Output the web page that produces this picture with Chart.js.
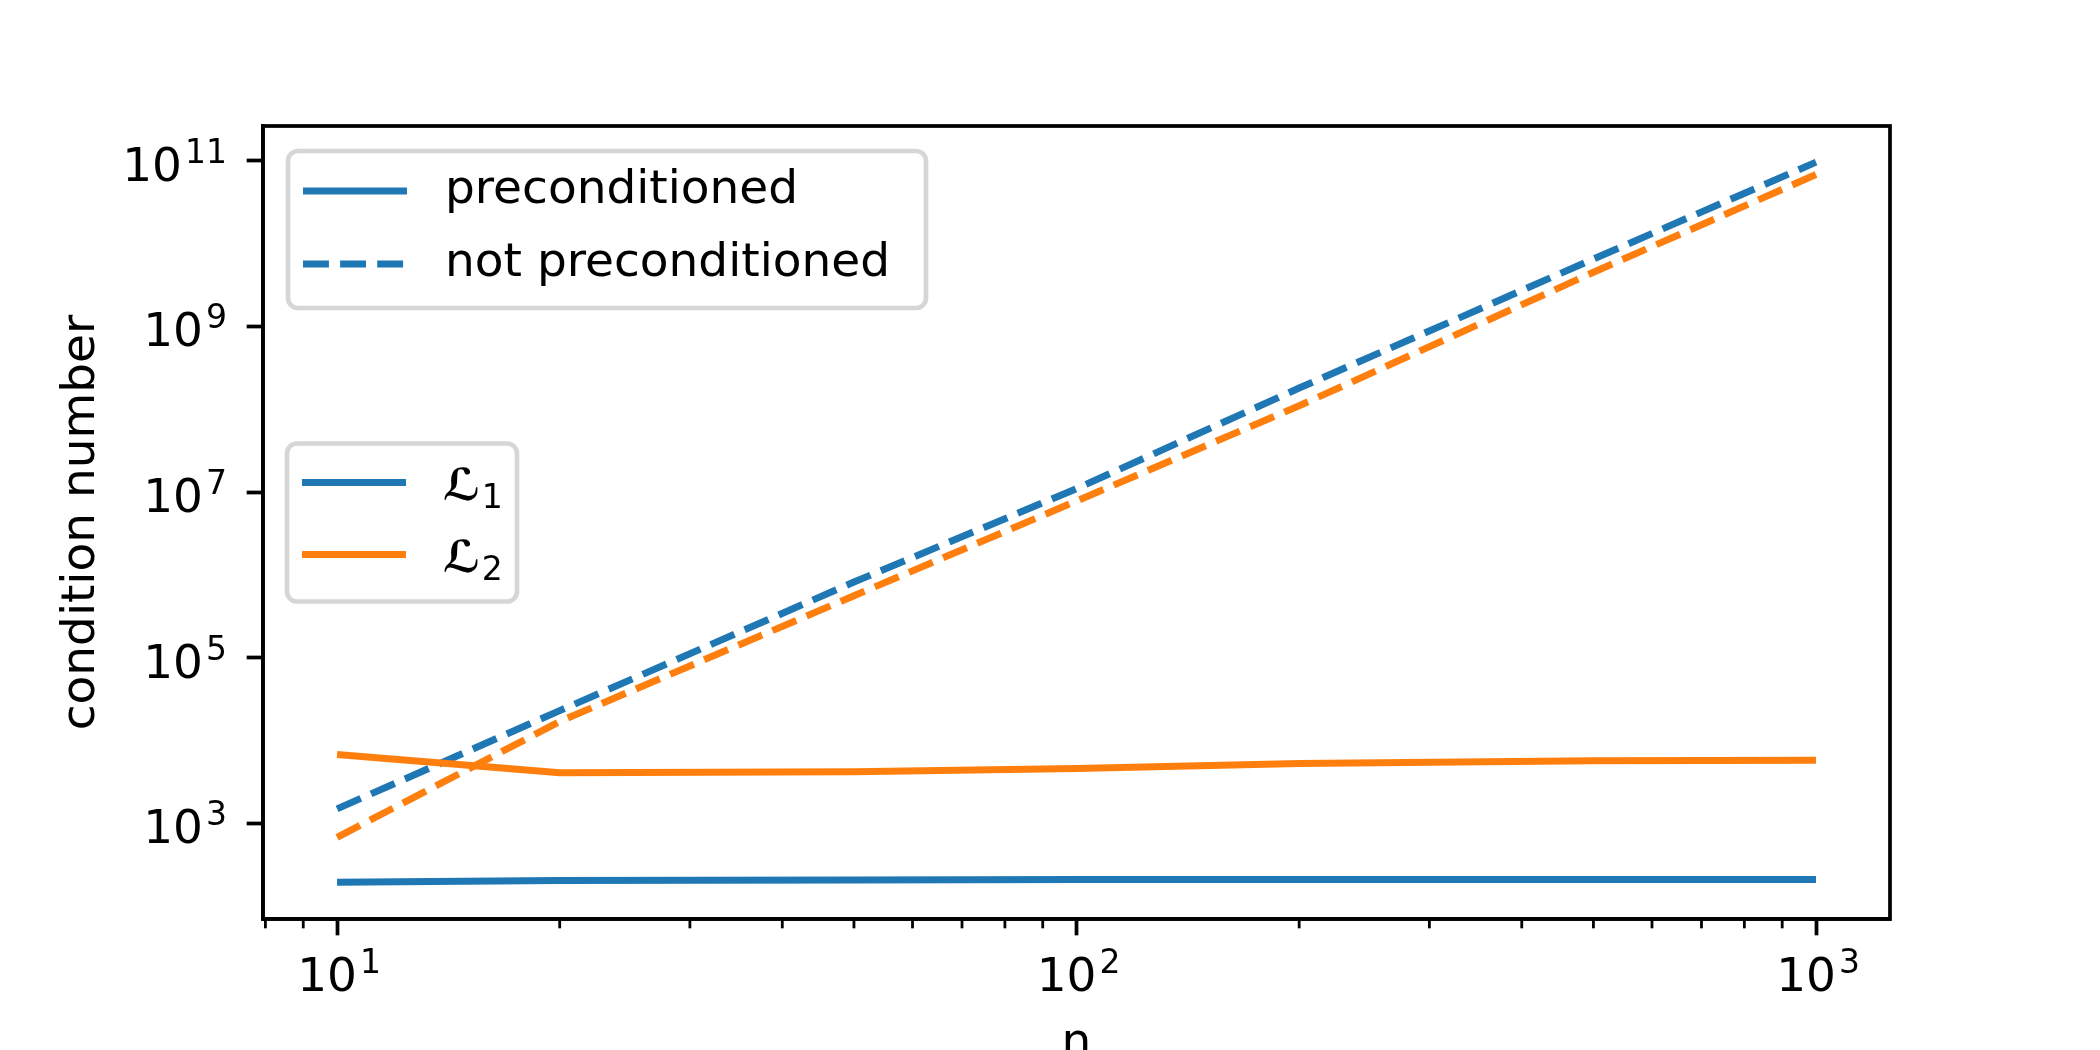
<!DOCTYPE html>
<html>
<head>
<meta charset="utf-8">
<script src="https://cdn.jsdelivr.net/npm/chart.js@4.4.1/dist/chart.umd.min.js"></script>
<style>
  html, body { margin: 0; padding: 0; background: #fff; }
  #wrap { width: 2100px; height: 1050px; position: relative; }
</style>
</head>
<body>
<div id="wrap"><canvas id="myChart"></canvas></div>
<script>
// problem sizes and condition numbers
const nValues = [10, 20, 50, 100, 200, 500, 1000];
const l1Pre = [195, 205, 208, 210, 210, 210, 210];
const l2Pre = [6800, 4100, 4200, 4600, 5300, 5700, 5800];
const l1NotPre = [1.5e3, 2.3e4, 8.2e5, 1.1e7, 1.8e8, 6.5e9, 9.6e10];
const l2NotPre = [6.8e2, 1.7e4, 5.6e5, 7.8e6, 1.1e8, 4.5e9, 6.8e10];

// axes
const X_MIN = 7.94, X_MAX = 1259;
const Y_MIN = 70.3, Y_MAX = 2.62e11;
const xTicks = [10, 100, 1000];
const xTickExp = ['1', '2', '3'];
const xMinorTicks = [8, 9, 20, 30, 40, 50, 60, 70, 80, 90, 200, 300, 400, 500, 600, 700, 800, 900];
const yTicks = [1e3, 1e5, 1e7, 1e9, 1e11];
const yTickExp = ['3', '5', '7', '9', '11'];

const K = 336 / 72; // px per point
const FAMILY = '"DejaVu Sans", sans-serif';
const FS = 47;
const BLUE = '#1f77b4';
const ORANGE = '#ff7f0e';
const DASH = [3.7 * 1.5 * K, 1.6 * 1.5 * K];

function pts(ys) {
  return nValues.map((n, i) => ({ x: n, y: ys[i] }));
}

// "10" with a raised exponent, like matplotlib's mathtext labels
function drawPow(ctx, exp, x, baseline, align) {
  ctx.font = FS + 'px ' + FAMILY;
  const wb = ctx.measureText('10').width;
  ctx.font = Math.round(FS * 0.7) + 'px ' + FAMILY;
  const we = ctx.measureText(exp).width;
  const total = wb + 3 + we;
  const start = align === 'right' ? x - total : x - total / 2;
  ctx.textAlign = 'left';
  ctx.textBaseline = 'alphabetic';
  ctx.font = FS + 'px ' + FAMILY;
  ctx.fillText('10', start, baseline);
  ctx.font = Math.round(FS * 0.7) + 'px ' + FAMILY;
  ctx.fillText(exp, start + wb + 3, baseline - 18);
}

function drawLegend(ctx, x, y, w, h, entries) {
  ctx.save();
  ctx.fillStyle = 'rgba(255,255,255,0.8)';
  ctx.strokeStyle = '#d6d6d6';
  ctx.lineWidth = 1 * K;
  ctx.beginPath();
  ctx.roundRect(x, y, w, h, 10);
  ctx.fill();
  ctx.stroke();
  entries.forEach(e => {
    const ey = y + e.dy;
    ctx.strokeStyle = e.color;
    ctx.lineWidth = 1.5 * K;
    ctx.lineCap = 'butt';
    ctx.setLineDash(e.dash || []);
    ctx.beginPath();
    ctx.moveTo(x + 15, ey);
    ctx.lineTo(x + 119, ey);
    ctx.stroke();
    ctx.setLineDash([]);
    ctx.fillStyle = '#000';
    ctx.textAlign = 'left';
    if (e.sub) {
      ctx.textBaseline = 'alphabetic';
      ctx.font = 'italic 600 44px ' + FAMILY;
      ctx.fillText(e.text, x + 156, ey + 17);
      const wL = ctx.measureText(e.text).width;
      ctx.font = '33px ' + FAMILY;
      ctx.fillText(e.sub, x + 156 + wL + 1, ey + 25);
    } else {
      ctx.textBaseline = 'middle';
      ctx.font = FS + 'px ' + FAMILY;
      ctx.fillText(e.text, x + 157, ey);
    }
  });
  ctx.restore();
}

const extras = {
  id: 'extras',
  afterDatasetsDraw(chart) {
    const { ctx, chartArea: a, scales: { x, y } } = chart;
    ctx.save();
    ctx.strokeStyle = '#000';
    ctx.lineWidth = 0.6 * K;
    xMinorTicks.forEach(v => {
      const px = x.getPixelForValue(v);
      ctx.beginPath();
      ctx.moveTo(px, a.bottom);
      ctx.lineTo(px, a.bottom + 2 * K);
      ctx.stroke();
    });
    ctx.lineWidth = 0.8 * K;
    ctx.strokeRect(a.left, a.top, a.right - a.left, a.bottom - a.top);

    // tick labels
    ctx.fillStyle = '#000';
    xTicks.forEach((v, i) => {
      drawPow(ctx, xTickExp[i], x.getPixelForValue(v) + 2, a.bottom + 72, 'center');
    });
    yTicks.forEach((v, i) => {
      drawPow(ctx, yTickExp[i], a.left - 36, y.getPixelForValue(v) + 20, 'right');
    });
    ctx.restore();

    drawLegend(ctx, a.left + 25, a.top + 25, 638, 157, [
      { text: 'preconditioned', color: BLUE, dy: 40 },
      { text: 'not preconditioned', color: BLUE, dash: DASH, dy: 113 }
    ]);
    const h2 = 158;
    drawLegend(ctx, a.left + 24, (a.top + a.bottom) / 2 - h2 / 2, 230, h2, [
      { text: 'ℒ', sub: '1', color: BLUE, dy: 39 },
      { text: 'ℒ', sub: '2', color: ORANGE, dy: 111 }
    ]);
  }
};

const tickFont = { family: FAMILY, size: FS };
const gridOpts = {
  display: true, drawOnChartArea: false, drawTicks: true,
  tickLength: 3.5 * K, tickWidth: 0.8 * K, tickColor: '#000'
};

const ctx = document.getElementById('myChart');

new Chart(ctx, {
  type: 'line',
  data: {
    datasets: [
      { label: 'L1 preconditioned', data: pts(l1Pre), borderColor: BLUE, order: 3 },
      { label: 'L1 not preconditioned', data: pts(l1NotPre), borderColor: BLUE, borderDash: DASH, order: 2 },
      { label: 'L2 preconditioned', data: pts(l2Pre), borderColor: ORANGE, order: 1 },
      { label: 'L2 not preconditioned', data: pts(l2NotPre), borderColor: ORANGE, borderDash: DASH, order: 0 }
    ]
  },
  options: {
    responsive: true,
    maintainAspectRatio: false,
    animation: false,
    elements: {
      line: { borderWidth: 1.5 * K, tension: 0, borderJoinStyle: 'round', fill: false },
      point: { radius: 0, hoverRadius: 0 }
    },
    layout: { padding: { left: 0, top: 126, right: 210, bottom: 0 } },
    plugins: { legend: { display: false }, tooltip: { enabled: false } },
    scales: {
      x: {
        type: 'logarithmic',
        position: 'bottom',
        min: X_MIN,
        max: X_MAX,
        afterBuildTicks: s => { s.ticks = xTicks.map(v => ({ value: v })); },
        afterFit: s => { s.height = 131; },
        ticks: { display: false, autoSkip: false },
        grid: gridOpts,
        border: { display: true, color: '#000', width: 0.8 * K },
        title: { display: true, text: 'n', color: '#000', font: tickFont, padding: { top: 0, bottom: -22 } }
      },
      y: {
        type: 'logarithmic',
        position: 'left',
        min: Y_MIN,
        max: Y_MAX,
        afterBuildTicks: s => { s.ticks = yTicks.map(v => ({ value: v })); },
        afterFit: s => { s.width = 263; },
        ticks: { display: false, autoSkip: false },
        grid: gridOpts,
        border: { display: true, color: '#000', width: 0.8 * K },
        title: { display: true, text: 'condition number', color: '#000', font: tickFont, padding: { top: 54, bottom: 0 } }
      }
    }
  },
  plugins: [extras]
});
</script>
</body>
</html>
